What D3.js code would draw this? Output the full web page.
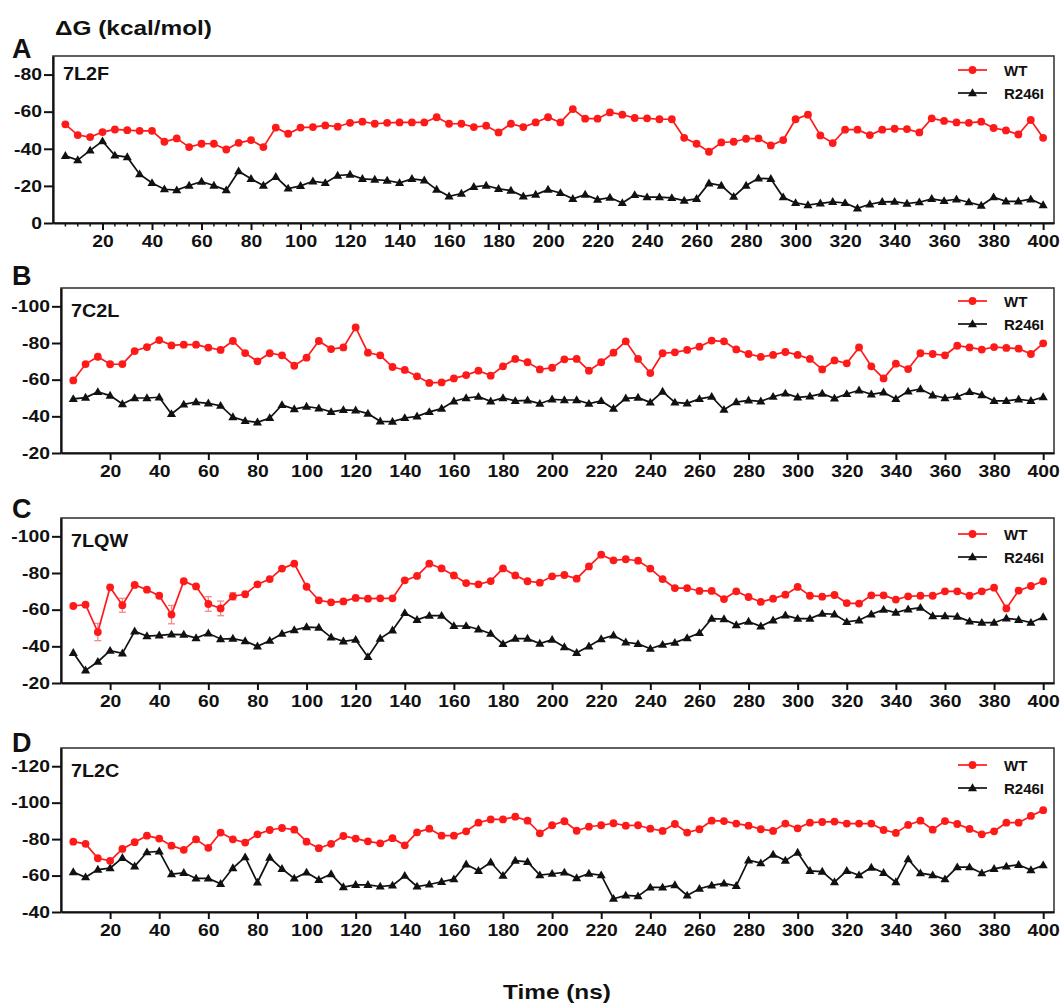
<!DOCTYPE html>
<html>
<head>
<meta charset="utf-8">
<script src="https://cdn.jsdelivr.net/npm/d3@7"></script>
<style>
  html, body { margin: 0; padding: 0; background: #fff; }
  text { font-family: "Liberation Sans", Arial, sans-serif; font-weight: bold; fill: #111; }
</style>
</head>
<body>
<svg id="chart" width="1061" height="1008"></svg>
<script>
// Simulation time points (ns)
const times = [5,10,15,20,25,30,35,40,45,50,55,60,65,70,75,80,85,90,95,100,
  105,110,115,120,125,130,135,140,145,150,155,160,165,170,175,180,185,190,195,200,
  205,210,215,220,225,230,235,240,245,250,255,260,265,270,275,280,285,290,295,300,
  305,310,315,320,325,330,335,340,345,350,355,360,365,370,375,380,385,390,395,400];

const xTicks = [20,40,60,80,100,120,140,160,180,200,220,240,260,280,300,320,340,360,380,400];
const seriesNames = ["WT", "R246I"];
const panelLetters = ["A", "B", "C", "D"];
const complexNames = ["7L2F", "7C2L", "7LQW", "7L2C"];

// Binding free energy, kcal/mol — 7L2F
const wt7L2F = [-53.2,-47.4,-46.3,-49.0,-50.4,-50.0,-49.7,-49.7,-43.8,-45.6,-40.9,-42.7,-42.7,-39.6,-43.2,-44.7,-40.9,-51.4,-48.1,-51.4,-51.7,-52.6,-51.9,-54.0,-54.6,-53.5,
  -54.0,-54.2,-54.2,-54.2,-57.0,-53.5,-53.5,-51.7,-52.4,-48.8,-53.5,-51.7,-54.2,-57.0,-54.2,-61.4,-56.2,-56.2,-59.6,-58.4,-56.6,-56.4,-55.9,-55.9,-45.9,-42.7,-38.4,
  -43.4,-43.8,-45.4,-45.6,-41.8,-44.7,-55.9,-58.4,-47.2,-43.1,-50.3,-50.3,-47.4,-50.3,-50.8,-50.6,-48.8,-56.4,-55.0,-54.2,-54.0,-54.6,-51.2,-49.9,-47.7,-55.5,-45.9];
const mut7L2F = [-36.2,-33.9,-39.1,-44.1,-36.4,-35.5,-26.3,-21.6,-18.2,-17.7,-20.2,-22.3,-20.2,-17.7,-27.9,-23.8,-20.2,-24.9,-18.6,-20.0,-22.5,-21.6,-25.6,-26.1,-23.8,-23.4,
  -22.9,-21.6,-23.8,-23.0,-18.0,-14.4,-15.9,-19.5,-20.2,-18.4,-17.5,-14.4,-15.3,-18.0,-16.2,-13.0,-15.3,-12.6,-13.7,-10.8,-15.1,-13.9,-13.9,-13.5,-12.1,-13.0,-21.4,
  -20.2,-14.2,-20.2,-24.1,-23.8,-13.9,-10.8,-9.7,-10.6,-11.4,-10.8,-7.9,-10.1,-11.4,-11.5,-10.5,-11.2,-13.0,-11.9,-12.8,-11.2,-9.4,-13.9,-11.7,-11.7,-12.8,-9.7];

// 7C2L
const wt7C2L = [-59.6,-68.5,-72.5,-68.4,-68.5,-75.6,-77.8,-81.6,-78.7,-79.1,-79.1,-77.5,-76.2,-81.1,-74.5,-70.0,-74.4,-73.3,-67.6,-72.0,-81.1,-76.7,-77.6,-88.5,-74.7,-73.3,
  -66.9,-65.3,-61.8,-58.2,-58.5,-60.7,-62.5,-64.9,-62.2,-67.3,-71.3,-69.5,-65.6,-66.5,-71.1,-71.3,-64.9,-69.5,-74.7,-80.9,-71.3,-63.6,-74.4,-74.9,-76.2,-78.0,-81.3,
  -80.9,-76.5,-74.0,-72.4,-73.5,-75.1,-73.5,-71.3,-65.6,-70.5,-68.9,-77.6,-67.3,-60.7,-68.7,-65.8,-74.4,-74.0,-73.3,-78.5,-77.6,-76.4,-77.8,-77.3,-76.9,-74.0,-79.8];
const mut7C2L = [-49.5,-50.2,-53.3,-51.3,-46.7,-50.0,-50.0,-50.4,-41.3,-46.5,-47.8,-47.1,-45.8,-39.6,-37.5,-36.7,-39.1,-46.2,-44.0,-45.3,-44.4,-42.4,-43.5,-43.3,-41.5,-37.3,
  -37.1,-39.1,-40.0,-42.4,-44.2,-48.2,-50.0,-50.7,-48.2,-50.0,-48.4,-48.7,-46.9,-49.3,-48.9,-48.9,-46.9,-48.4,-44.2,-49.8,-50.2,-47.6,-53.5,-47.6,-47.1,-49.5,-50.7,
  -43.6,-47.8,-48.7,-48.2,-50.7,-52.5,-50.4,-50.9,-52.4,-49.8,-52.2,-54.2,-52.0,-53.1,-49.5,-53.6,-54.9,-51.5,-50.0,-50.7,-53.3,-51.6,-48.4,-48.4,-49.3,-48.5,-50.5];

// 7LQW
const wt7LQW = [-62.0,-62.7,-47.8,-72.2,-62.4,-73.5,-70.9,-67.6,-57.3,-75.5,-72.7,-63.1,-60.7,-67.3,-68.4,-73.8,-76.7,-82.4,-85.1,-72.5,-65.1,-64.0,-64.5,-66.4,-66.0,-66.2,
  -66.2,-76.0,-78.4,-85.1,-82.5,-78.7,-74.5,-73.8,-75.6,-82.5,-78.7,-75.5,-74.7,-78.2,-78.9,-76.9,-83.6,-90.0,-86.9,-87.5,-86.7,-82.4,-76.7,-71.8,-71.8,-70.2,-70.2,
  -65.8,-70.0,-66.9,-64.2,-66.0,-68.2,-72.4,-67.6,-67.1,-68.0,-63.6,-63.3,-67.8,-67.8,-65.5,-67.3,-67.6,-67.6,-70.0,-70.0,-67.6,-70.0,-72.0,-60.7,-70.4,-72.9,-75.5];
const mut7LQW = [-36.5,-26.9,-31.6,-37.6,-36.2,-48.2,-45.6,-46.0,-46.5,-46.4,-44.5,-47.1,-44.0,-44.2,-42.9,-40.0,-43.1,-46.9,-48.9,-50.5,-50.2,-44.9,-42.7,-43.6,-34.2,-44.2,
  -48.7,-58.2,-54.5,-56.7,-56.7,-51.1,-51.1,-49.3,-46.9,-41.3,-44.2,-44.2,-41.5,-43.6,-39.6,-36.5,-40.0,-44.0,-46.0,-42.2,-41.3,-38.7,-40.9,-42.0,-44.5,-47.3,-55.1,
  -54.9,-51.6,-53.5,-50.9,-54.2,-56.9,-55.1,-55.1,-57.8,-57.5,-53.3,-54.2,-57.5,-60.0,-58.4,-60.2,-61.1,-56.5,-56.5,-56.2,-53.6,-52.9,-52.9,-55.3,-54.5,-52.9,-56.0];
// Standard deviation shown where it exceeds the marker (7LQW, WT)
const errTimes7LQW = [15, 25, 45, 60, 65, 70];
const errWt7LQW = [4.7, 3.8, 5.0, 4.0, 4.0, 2.0];

// 7L2C
const wt7L2C = [-78.6,-77.4,-69.5,-68.1,-74.6,-78.3,-81.9,-80.3,-76.4,-74.1,-79.9,-75.2,-83.6,-79.9,-78.1,-82.6,-85.0,-86.1,-85.2,-78.6,-75.0,-77.4,-81.7,-80.3,-78.8,-77.7,
  -80.5,-76.6,-83.7,-85.7,-81.9,-81.9,-84.3,-89.0,-90.8,-90.8,-92.3,-90.1,-83.2,-87.6,-89.8,-84.6,-86.8,-87.6,-88.7,-87.4,-87.6,-85.7,-84.5,-88.3,-83.6,-85.4,-90.1,
  -89.9,-88.5,-87.4,-85.4,-84.5,-88.5,-85.9,-89.0,-89.4,-89.6,-88.5,-88.5,-88.5,-85.0,-83.4,-87.8,-90.1,-85.2,-89.9,-88.3,-85.6,-82.6,-84.3,-89.0,-89.0,-92.7,-95.9];
const mut7L2C = [-61.9,-59.1,-63.3,-64.1,-69.7,-65.1,-72.8,-73.3,-60.8,-61.5,-58.4,-58.4,-55.5,-64.1,-70.1,-56.2,-69.9,-63.7,-58.4,-61.7,-57.7,-60.8,-53.7,-54.9,-54.9,-54.0,
  -54.6,-59.9,-54.0,-55.1,-56.6,-58.0,-66.2,-62.6,-67.3,-59.9,-68.2,-67.5,-60.2,-61.0,-61.7,-58.6,-61.1,-60.2,-47.3,-49.1,-48.7,-53.5,-53.5,-54.8,-49.1,-52.8,-54.6,
  -55.7,-54.4,-68.4,-66.8,-71.5,-68.2,-72.6,-62.6,-62.2,-56.4,-62.6,-60.2,-64.4,-61.5,-56.4,-69.0,-61.3,-60.2,-58.0,-64.6,-64.6,-61.3,-63.7,-65.0,-65.9,-63.0,-65.7];

// y tick values per panel
const yTicksA = [-80, -60, -40, -20, 0];
const yTicksB = [-100, -80, -60, -40, -20];
const yTicksC = [-100, -80, -60, -40, -20];
const yTicksD = [-120, -100, -80, -60, -40];

// Panel geometry and y-range (drawing layout)
const panels = [
  { wt: wt7L2F, mut: mut7L2F, yTicks: yTicksA, yDomain: [-90, 0],    left: 53,  top: 56,  bottom: 223, minor: true,
    letterY: 58,  nameY: 80,  legY: 70 },
  { wt: wt7C2L, mut: mut7C2L, yTicks: yTicksB, yDomain: [-110, -20], left: 61,  top: 288, bottom: 453, minor: false,
    letterY: 285, nameY: 317, legY: 301 },
  { wt: wt7LQW, mut: mut7LQW, yTicks: yTicksC, yDomain: [-110, -20], left: 61,  top: 518, bottom: 683, minor: false,
    letterY: 518, nameY: 547, legY: 534, errT: errTimes7LQW, err: errWt7LQW },
  { wt: wt7L2C, mut: mut7L2C, yTicks: yTicksD, yDomain: [-130, -40], left: 61,  top: 748, bottom: 912, minor: false,
    letterY: 752, nameY: 777, legY: 765 }
];
panels.forEach((p, i) => { p.letter = panelLetters[i]; p.name = complexNames[i]; });

const RIGHT = 1054;
const RED = "#ff1a1a";
const BLACK = "#111";

// widen bold glyphs horizontally, keeping the text as real text
function widen(sel, k) {
  sel.each(function () {
    const len = this.getComputedTextLength();
    d3.select(this).attr("textLength", len * k).attr("lengthAdjust", "spacingAndGlyphs");
  });
}

const svg = d3.select("#chart");
svg.append("rect").attr("width", 1061).attr("height", 1008).attr("fill", "#fff");

// Shared y-axis title and x-axis title
svg.append("text").attr("x", 55).attr("y", 35).attr("font-size", 21).text("ΔG (kcal/mol)")
  .call(widen, 1.16);
svg.append("text").attr("x", 557).attr("y", 999).attr("font-size", 21)
  .attr("text-anchor", "middle").text("Time (ns)").call(widen, 1.16);

const triangle = d3.symbol().type(d3.symbolTriangle).size(36);

panels.forEach(p => {
  const x = d3.scaleLinear().domain([0, 404.4]).range([p.left, RIGHT]);
  const y = d3.scaleLinear().domain(p.yDomain).range([p.top, p.bottom]);
  const g = svg.append("g");

  // frame
  g.append("rect")
    .attr("x", p.left).attr("y", p.top)
    .attr("width", RIGHT - p.left).attr("height", p.bottom - p.top)
    .attr("fill", "none").attr("stroke", "#3a3a3a").attr("stroke-width", 1.6);

  // panel letter and complex name
  svg.append("text").attr("x", 12).attr("y", p.letterY).attr("font-size", 27).text(p.letter);
  g.append("text").attr("x", p.left + 10).attr("y", p.nameY).attr("font-size", 18).text(p.name)
    .call(widen, 1.1);

  // y axis
  const yAxis = d3.axisLeft(y).tickValues(p.yTicks).tickFormat(d => String(d))
    .tickSize(9).tickPadding(2).tickSizeOuter(0);
  const ya = g.append("g").attr("transform", `translate(${p.left},0)`).call(yAxis);
  // x axis
  const xAxis = d3.axisBottom(x).tickValues(xTicks).tickFormat(d => String(d))
    .tickSize(7).tickPadding(5).tickSizeOuter(0);
  const xa = g.append("g").attr("transform", `translate(0,${p.bottom})`).call(xAxis);

  [ya, xa].forEach(a => {
    a.select(".domain").attr("stroke", "#111").attr("stroke-width", 2.2);
    a.selectAll(".tick line").attr("stroke", "#111").attr("stroke-width", 2);
    a.selectAll(".tick text").attr("font-size", 16.5).attr("font-weight", "bold")
      .attr("font-family", "'Liberation Sans', Arial, sans-serif").attr("fill", "#111")
      .call(widen, 1.17);
  });

  if (p.minor) {
    const minorT = times.filter(t => t % 20 !== 0);
    xa.selectAll(".minor").data(minorT).join("line")
      .attr("x1", d => x(d)).attr("x2", d => x(d)).attr("y1", 0).attr("y2", 3.5)
      .attr("stroke", "#111").attr("stroke-width", 1.5);
  }

  const line = d3.line().x((d, i) => x(times[i])).y(d => y(d));

  // error bars
  if (p.err) {
    const eg = g.append("g").attr("stroke", "#f28a8a").attr("stroke-width", 1.3);
    p.errT.forEach((t, k) => {
      const v = p.wt[times.indexOf(t)];
      const cx = x(t), y1 = y(v - p.err[k]), y2 = y(v + p.err[k]);
      eg.append("line").attr("x1", cx).attr("x2", cx).attr("y1", y1).attr("y2", y2);
      eg.append("line").attr("x1", cx - 3.5).attr("x2", cx + 3.5).attr("y1", y1).attr("y2", y1);
      eg.append("line").attr("x1", cx - 3.5).attr("x2", cx + 3.5).attr("y1", y2).attr("y2", y2);
    });
  }

  // R246I series
  g.append("path").datum(p.mut).attr("d", line)
    .attr("fill", "none").attr("stroke", BLACK).attr("stroke-width", 1.7);
  g.selectAll(".tri").data(p.mut).join("path")
    .attr("transform", (d, i) => `translate(${x(times[i])},${y(d) + 0.5})`)
    .attr("d", triangle).attr("fill", BLACK);

  // WT series
  g.append("path").datum(p.wt).attr("d", line)
    .attr("fill", "none").attr("stroke", RED).attr("stroke-width", 1.7);
  g.selectAll(".dot").data(p.wt).join("circle")
    .attr("cx", (d, i) => x(times[i])).attr("cy", d => y(d)).attr("r", 3.9).attr("fill", RED);

  // legend
  const lx1 = 958, lx2 = 987, ltx = 1004;
  const legRows = [
    { name: seriesNames[0], color: RED, yy: p.legY },
    { name: seriesNames[1], color: BLACK, yy: p.legY + 23 }
  ];
  legRows.forEach((r, k) => {
    g.append("line").attr("x1", lx1).attr("x2", lx2).attr("y1", r.yy).attr("y2", r.yy)
      .attr("stroke", r.color).attr("stroke-width", 1.7);
    if (k === 0) {
      g.append("circle").attr("cx", (lx1 + lx2) / 2).attr("cy", r.yy).attr("r", 3.9).attr("fill", r.color);
    } else {
      g.append("path").attr("transform", `translate(${(lx1 + lx2) / 2},${r.yy + 0.5})`)
        .attr("d", triangle).attr("fill", r.color);
    }
    g.append("text").attr("x", ltx).attr("y", r.yy + 5.5).attr("font-size", 15).text(r.name);
  });
});
</script>
</body>
</html>
